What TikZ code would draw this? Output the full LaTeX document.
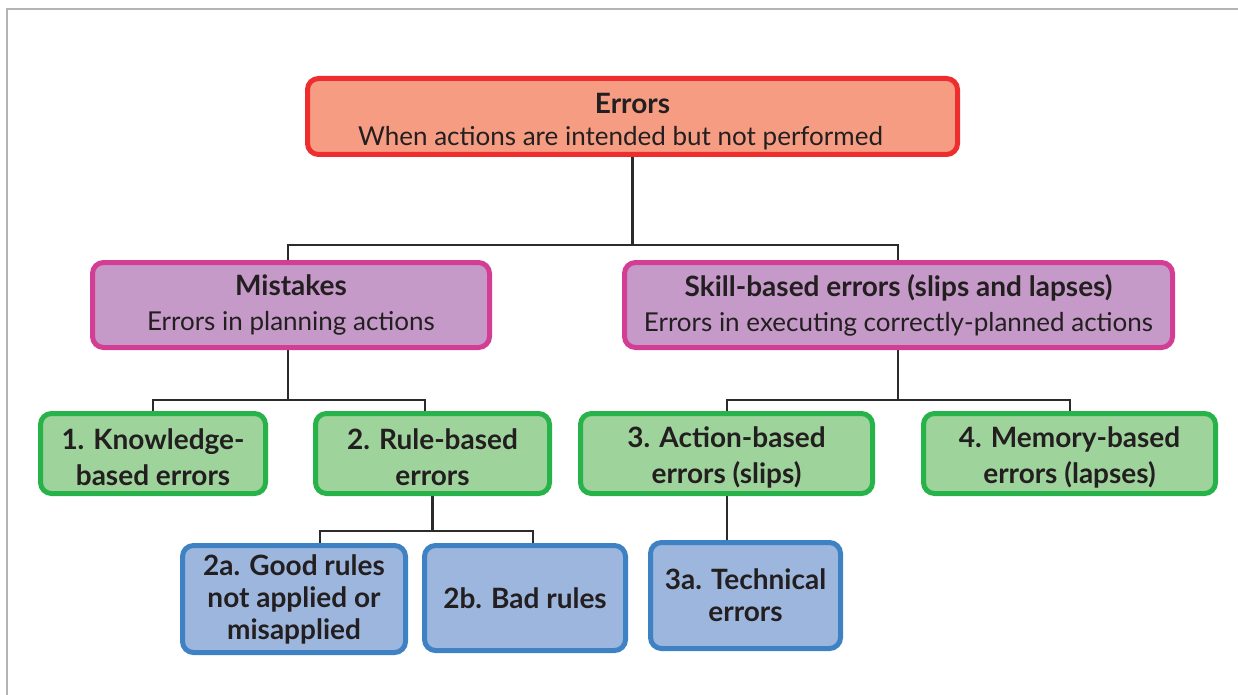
\documentclass[tikz,border=0pt]{standalone}
\usepackage{fontspec}
\setmainfont{Lato}
\usetikzlibrary{backgrounds}

\definecolor{txt}{HTML}{231F20}
\definecolor{redline}{HTML}{EE2E2E}
\definecolor{redfill}{HTML}{F59C82}
\definecolor{pinkline}{HTML}{D33D94}
\definecolor{purfill}{HTML}{C59AC8}
\definecolor{grnline}{HTML}{27B24A}
\definecolor{grnfill}{HTML}{9FD39C}
\definecolor{bluline}{HTML}{3F82C4}
\definecolor{blufill}{HTML}{9DB6DD}
\definecolor{conncol}{HTML}{2B2B2B}
\definecolor{framecol}{HTML}{B4B4B4}

\newcommand{\headline}[1]{{\fontsize{28}{32}\selectfont\bfseries #1}}

\tikzset{
  box/.style={draw, line width=5pt, rounded corners=11pt, align=center,
    text=txt, inner sep=0pt, font=\fontsize{26}{32}\selectfont},
  topbox/.style={box, draw=redline, fill=redfill},
  midbox/.style={box, draw=pinkline, fill=purfill, font=\fontsize{26}{35}\selectfont},
  grnbox/.style={box, draw=grnline, fill=grnfill, font=\fontsize{28}{36}\selectfont\bfseries},
  blubox/.style={box, draw=bluline, fill=blufill, font=\fontsize{28}{32}\selectfont\bfseries},
  conn/.style={draw=conncol, line width=2.4pt},
}

\begin{document}
\begin{tikzpicture}[x=1pt, y=-1pt]
\useasboundingbox (0,0) rectangle (1238,695);
% page frame
\draw[framecol, line width=2pt] (7,695) -- (7,9) -- (1238,9);

% level 0
\node[topbox, minimum width=650pt, minimum height=76pt] (err) at (632.5,116.5)
  {\rule{0pt}{30pt}\headline{Errors}\\When actions are intended but not performed\hspace*{24pt}};

% level 1
\node[midbox, minimum width=397pt, minimum height=85pt] (mis) at (291,305)
  {\headline{Mistakes}\\Errors in planning actions};
\node[midbox, minimum width=548pt, minimum height=85pt] (skl) at (898.5,305)
  {\headline{Skill-based errors (slips and lapses)}\\Errors in executing correctly-planned actions};

% level 2
\node[grnbox, minimum width=225pt, minimum height=80pt] (k1) at (153,453.5)
  {\rule{0pt}{28pt}1. Knowledge-\\based errors};
\node[grnbox, minimum width=234pt, minimum height=80pt] (r2) at (432.5,453.5)
  {\rule{0pt}{28pt}2. Rule-based\\errors};
\node[grnbox, minimum width=292pt, minimum height=80pt] (a3) at (726.5,453.5)
  {\rule{0pt}{28pt}3. Action-based\\errors (slips)};
\node[grnbox, minimum width=292pt, minimum height=80pt] (m4) at (1069.5,453.5)
  {\rule{0pt}{28pt}4. Memory-based\\errors (lapses)};

% level 3
\node[blubox, minimum width=223pt, minimum height=107pt] (g2a) at (294,599)
  {2a. Good rules\\not applied or\\misapplied};
\node[blubox, minimum width=201pt, minimum height=105pt] (b2b) at (525,598)
  {2b. Bad rules};
\node[blubox, minimum width=190pt, minimum height=106pt] (t3a) at (745.5,595.5)
  {3a. Technical\\errors};

% connector bars
\coordinate (b1L) at (288,245);  \coordinate (b1R) at (898,245);
\coordinate (b2L) at (153,400);  \coordinate (b2R) at (425,400);
\coordinate (b3L) at (727,400);  \coordinate (b3R) at (1070,400);
\coordinate (b4L) at (320,531);  \coordinate (b4R) at (533,531);

\begin{scope}[on background layer]
\draw[conn] (err.south) -- (err.south |- b1L);
\draw[conn] (b1L |- mis.north) -- (b1L) -- (b1R) -- (b1R |- skl.north);

\draw[conn] (b1L |- mis.south) -- (b1L |- b2L);
\draw[conn] (b2L |- k1.north) -- (b2L) -- (b2R) -- (b2R |- r2.north);

\draw[conn] (b1R |- skl.south) -- (b1R |- b3L);
\draw[conn] (b3L |- a3.north) -- (b3L) -- (b3R) -- (b3R |- m4.north);

\draw[conn] (r2.south) -- (r2.south |- b4L);
\draw[conn] (b4L |- g2a.north) -- (b4L) -- (b4R) -- (b4R |- b2b.north);

\draw[conn] (b3L |- a3.south) -- (b3L |- t3a.north);
\end{scope}
\end{tikzpicture}
\end{document}
